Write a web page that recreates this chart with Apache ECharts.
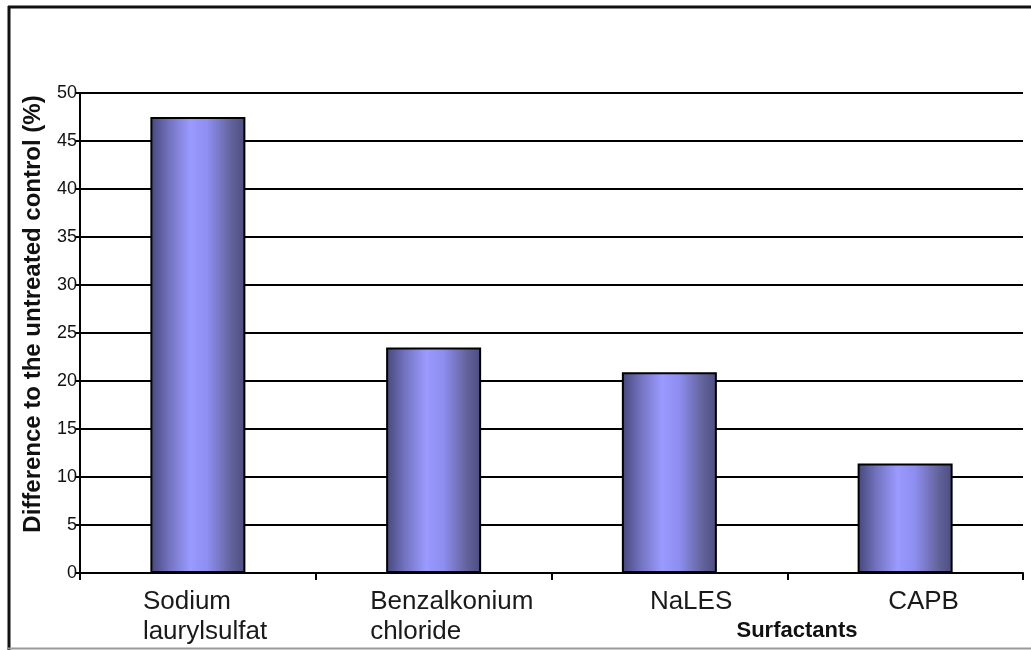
<!DOCTYPE html>
<html>
<head>
<meta charset="utf-8">
<script src="https://cdn.jsdelivr.net/npm/echarts@6/dist/echarts.min.js"></script>
<style>
  html, body { margin: 0; padding: 0; background: #fff; }
  #chart { width: 1031px; height: 650px; }
</style>
</head>
<body>
<div id="chart"></div>
<script>
// Surfactant categories (line breaks as printed under the axis)
const categories = ['Sodium\nlaurylsulfat', 'Benzalkonium\nchloride', 'NaLES', 'CAPB'];
// Difference to the untreated control, in percent
const differences = [47.5, 23.5, 20.9, 11.4];
// Value axis range and step
const yMin = 0;
const yMax = 50;
const yStep = 5;

// Width of each label block; lines are left-aligned inside it
const labelBlockWidths = [110, 127, 39, 34];

const rich = {};
labelBlockWidths.forEach(function (w, i) {
  rich['c' + i] = {
    width: w,
    align: 'left',
    fontFamily: 'Liberation Sans, Arial, sans-serif',
    fontSize: 26,
    lineHeight: 30,
    color: '#1a1a1a'
  };
});

const barGradient = new echarts.graphic.LinearGradient(0, 0, 1, 0, [
  { offset: 0, color: '#46467a' },
  { offset: 0.2, color: '#7373c0' },
  { offset: 0.42, color: '#9a9aff' },
  { offset: 0.6, color: '#8e8ef0' },
  { offset: 0.85, color: '#63639c' },
  { offset: 1, color: '#4c4c80' }
]);

const chart = echarts.init(document.getElementById('chart'), null, { renderer: 'canvas' });
chart.setOption({
  animation: false,
  backgroundColor: '#ffffff',
  grid: { left: 80, top: 93, right: 8, bottom: 77, containLabel: false, outerBoundsMode: 'none' },
  xAxis: {
    type: 'category',
    data: categories,
    boundaryGap: true,
    name: 'Surfactants',
    nameLocation: 'middle',
    nameGap: 47,
    nameMoveOverlap: false,
    nameTextStyle: {
      fontFamily: 'Liberation Sans, Arial, sans-serif',
      fontSize: 22,
      fontWeight: 'bold',
      color: '#111',
      padding: [0, 0, 0, 491]
    },
    axisLine: { show: true, lineStyle: { color: '#000', width: 2 } },
    axisTick: { show: true, inside: false, length: 7, alignWithLabel: false, lineStyle: { color: '#000', width: 2 } },
    axisLabel: {
      interval: 0,
      margin: 14,
      formatter: function (value, index) {
        return value.split('\n').map(function (line) {
          return '{c' + index + '|' + line + '}';
        }).join('\n');
      },
      rich: rich
    },
    splitLine: { show: false }
  },
  yAxis: {
    type: 'value',
    min: yMin,
    max: yMax,
    interval: yStep,
    name: 'Difference to the untreated control (%)',
    nameLocation: 'middle',
    nameRotate: 90,
    nameGap: 35,
    nameMoveOverlap: false,
    nameTextStyle: {
      fontFamily: 'Liberation Sans, Arial, sans-serif',
      fontSize: 24,
      fontWeight: 'bold',
      color: '#111',
      padding: [0, 0, 0, 38]
    },
    axisLine: { show: true, lineStyle: { color: '#000', width: 2 } },
    axisTick: { show: true, inside: false, length: 4, lineStyle: { color: '#000', width: 2 } },
    axisLabel: {
      margin: 3,
      fontFamily: 'Liberation Sans, Arial, sans-serif',
      fontSize: 18,
      color: '#111'
    },
    splitLine: { show: true, lineStyle: { color: '#000', width: 2 } }
  },
  series: [{
    type: 'bar',
    data: differences,
    barWidth: 95,
    itemStyle: {
      color: barGradient,
      borderColor: '#000',
      borderWidth: 2
    }
  }],
  graphic: [
    { type: 'line', shape: { x1: 9, y1: 6, x2: 9, y2: 650 }, style: { stroke: '#111', lineWidth: 3 } },
    { type: 'line', shape: { x1: 8, y1: 7, x2: 1031, y2: 7 }, style: { stroke: '#111', lineWidth: 3 } },
    { type: 'line', shape: { x1: 8, y1: 648.5, x2: 1031, y2: 648.5 }, style: { stroke: '#9a9a9a', lineWidth: 2 } }
  ]
});
</script>
</body>
</html>
